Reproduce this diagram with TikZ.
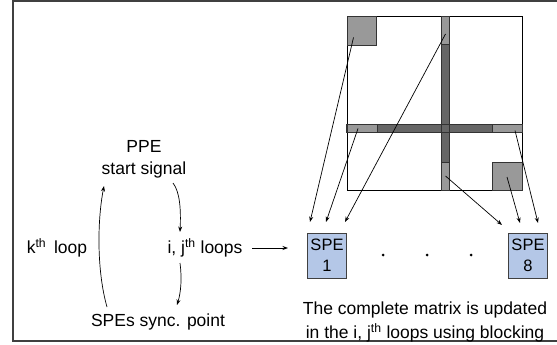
\documentclass[tikz,border=0pt]{standalone}
\usepackage{fontspec}
\setmainfont{Liberation Sans}
\usetikzlibrary{arrows.meta,positioning}
\definecolor{speblue}{HTML}{B4C7E7}

\begin{document}
\begin{tikzpicture}[
      x=1pt,y=-1pt,
      dep/.style={-{Stealth[length=5.5pt,width=4pt]},draw=black,line width=.7pt},
      lbl/.style={font=\fontsize{17.5}{22}\selectfont,align=center,inner sep=1pt},
      spe/.style={draw=black!75,fill=speblue,line width=.8pt,minimum width=39pt,
        minimum height=45pt,align=center,font=\fontsize{16.5}{21}\selectfont,inner sep=0pt},
      blk/.style={draw=black!80,fill=black!40,line width=.7pt,inner sep=0pt},
      bar/.style={draw=black!80,fill=black!60,line width=.7pt,inner sep=0pt},
      pnt/.style={circle,fill=black,inner sep=0pt,minimum size=3pt}]
    \useasboundingbox (0,0) rectangle (557,345);
    \draw[black!75,line width=1.3pt] (560,1) -- (13,1) -- (13,341) -- (560,341);

    % the matrix with its blocks
    \node[draw,line width=.7pt,minimum width=175pt,minimum height=174pt,inner sep=0pt] (mat) at (434.5,103) {};
    \node[bar,minimum width=175pt,minimum height=7.5pt] (hbar) at (434.5,128.5) {};
    \node[bar,minimum width=7.5pt,minimum height=174pt] (vbar) at (445.5,103) {};
    \draw[black!80,line width=.7pt] (hbar.north west) rectangle (hbar.south east);
    \node[blk,minimum width=30pt,minimum height=7.5pt] (hl) at (362,128.5) {};
    \node[blk,minimum width=30pt,minimum height=7.5pt] (hr) at (507,128.5) {};
    \node[blk,minimum width=7.5pt,minimum height=28pt] (vt) at (445.5,30) {};
    \node[blk,minimum width=7.5pt,minimum height=28pt] (vb) at (445.5,176) {};
    \node[blk,minimum width=29pt,minimum height=29pt] (tl) at (361.5,30.5) {};
    \node[blk,minimum width=30pt,minimum height=28pt] (br) at (507,176) {};

    \node[spe] (spe1) at (327,255.5) {SPE\\1};
    \node[spe] (spe8) at (528,255.5) {SPE\\8};
    \node[pnt] (d1) at (383,255) {};
    \node[pnt] (d2) at (427,255) {};
    \node[pnt] (d3) at (471,255) {};
    \node[lbl,font=\fontsize{17.5}{24}\selectfont] (note) at (425,322) {The complete matrix is updated\\in the i, j\textsuperscript{th} loops using blocking};

    \coordinate (e1) at (310,222);
    \coordinate (e2) at (326,222);
    \coordinate (e3) at (345,222);
    \coordinate (e4) at (502,225);
    \coordinate (e5) at (520,223);
    \coordinate (e6) at (538,223);
    \draw[dep] ([xshift=-8pt,yshift=-7pt]tl.center) -- (e1);
    \draw[dep] ([xshift=-4pt]hl.center) -- (e2);
    \draw[dep] ([yshift=-4pt]vt.center) -- (e3);
    \draw[dep] (vb.center) -- (e4);
    \draw[dep] ([yshift=-1pt]br.center) -- (e5);
    \draw[dep] ([xshift=8pt,yshift=-2pt]hr.center) -- (e6);

    % loop structure
    \node[lbl] (ppe) at (144,159) {PPE\\start signal};
    \node[lbl] (kloop) at (57,248) {k\textsuperscript{th}\, loop};
    \node[lbl] (ijloop) at (205,248) {i, j\textsuperscript{th} loops};
    \node[lbl] (sync) at (158,322) {SPEs sync. point};
    \coordinate (toblk) at (288,248);

    \draw[dep] ([xshift=-51pt,yshift=15pt]sync.center) .. controls (97,272) and (97,222) .. ([xshift=-40pt,yshift=-27pt]ppe.center);
    \draw[dep] ([xshift=29pt,yshift=-24pt]ppe.center) .. controls (180,192) and (181,210) .. ([xshift=-25pt,yshift=16pt]ijloop.center);
    \draw[dep] ([xshift=-25pt,yshift=-15pt]ijloop.center) .. controls (182,278) and (181,292) .. ([xshift=19pt,yshift=17pt]sync.center);
    \draw[dep] ([xshift=47pt]ijloop.center) -- (toblk);
  \end{tikzpicture}
\end{document}
